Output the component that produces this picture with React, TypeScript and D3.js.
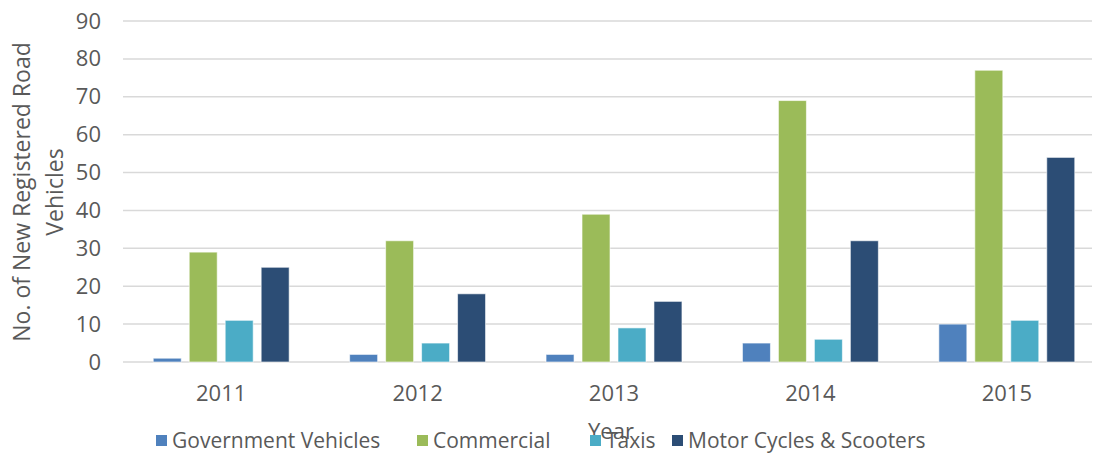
import React, { useEffect, useRef } from 'react';
import * as d3 from 'd3';

const years = ['2011', '2012', '2013', '2014', '2015'];
const seriesNames = ['Government Vehicles', 'Commercial', 'Taxis', 'Motor Cycles & Scooters'];
const government = [1, 2, 2, 5, 10];
const commercial = [29, 32, 39, 69, 77];
const taxis = [11, 5, 9, 6, 11];
const motorCycles = [25, 18, 16, 32, 54];
const colors = ['#4F81BD', '#9BBB59', '#4BACC6', '#2C4D75'];
const yTicks = [0, 10, 20, 30, 40, 50, 60, 70, 80, 90];

const font = '"Open Sans", sans-serif';
const textColor = '#595959';

function App() {
  const svgRef = useRef<SVGSVGElement>(null);

  useEffect(() => {
    const svg = d3.select(svgRef.current);
    svg.selectAll('*').remove();

    const width = 1098;
    const height = 456;
    const margin = { top: 21, right: 6, bottom: 94, left: 123 };

    const values = [government, commercial, taxis, motorCycles];

    const x0 = d3.scaleBand()
      .domain(years)
      .range([123, 1105])
      .paddingInner(0.308)
      .paddingOuter(0.154);

    const x1 = d3.scaleBand()
      .domain(seriesNames)
      .range([0, x0.bandwidth()])
      .paddingInner(0.222);

    const y = d3.scaleLinear()
      .domain([0, 90])
      .range([height - margin.bottom, margin.top]);

    // gridlines
    svg.append('g')
      .selectAll('line')
      .data(yTicks)
      .enter()
      .append('line')
      .attr('x1', margin.left)
      .attr('x2', width - margin.right)
      .attr('y1', d => y(d))
      .attr('y2', d => y(d))
      .attr('stroke', '#D9D9D9')
      .attr('stroke-width', 1.5);

    // y axis labels
    const yAxis = svg.append('g')
      .attr('transform', `translate(${margin.left - 22},0)`)
      .call(d3.axisLeft(y).tickValues(yTicks).tickSize(0).tickPadding(0));
    yAxis.select('.domain').remove();
    yAxis.selectAll('text')
      .attr('font-family', font)
      .attr('font-size', 22)
      .attr('fill', textColor);

    // bars
    seriesNames.forEach((name, si) => {
      svg.append('g')
        .selectAll('rect')
        .data(values[si])
        .enter()
        .append('rect')
        .attr('x', (d, i) => (x0(years[i]) as number) + (x1(name) as number))
        .attr('y', d => y(d))
        .attr('width', x1.bandwidth())
        .attr('height', d => y(0) - y(d))
        .attr('fill', colors[si])
        .attr('stroke', '#ffffff')
        .attr('stroke-opacity', 0.6)
        .attr('stroke-width', 1);
    });

    // x axis labels
    const xAxis = svg.append('g')
      .attr('transform', `translate(0,${height - margin.bottom + 19})`)
      .call(d3.axisBottom(x0).tickSize(0).tickPadding(0));
    xAxis.select('.domain').remove();
    xAxis.selectAll('text')
      .attr('font-family', font)
      .attr('font-size', 22)
      .attr('fill', textColor)
      .attr('dy', '0.9em');

    // y axis title
    const yTitle = svg.append('text')
      .attr('transform', 'translate(30,192) rotate(-90)')
      .attr('text-anchor', 'middle')
      .attr('font-family', font)
      .attr('font-size', 23)
      .attr('fill', textColor);
    yTitle.append('tspan').attr('x', 0).attr('dy', 0).text('No. of New Registered Road');
    yTitle.append('tspan').attr('x', 0).attr('dy', 33).text('Vehicles');

    // x axis title
    svg.append('text')
      .attr('x', 611)
      .attr('y', 439)
      .attr('text-anchor', 'middle')
      .attr('font-family', font)
      .attr('font-size', 22)
      .attr('fill', textColor)
      .text('Year');

    // legend
    const legendX = [156, 417, 590, 672];
    const legend = svg.append('g');
    seriesNames.forEach((name, i) => {
      legend.append('rect')
        .attr('x', legendX[i])
        .attr('y', 435)
        .attr('width', 11)
        .attr('height', 11)
        .attr('fill', colors[i]);
      legend.append('text')
        .attr('x', legendX[i] + 16)
        .attr('y', 448)
        .attr('font-family', font)
        .attr('font-size', 21)
        .attr('fill', textColor)
        .text(name);
    });
  }, []);

  return (
    <svg
      ref={svgRef}
      width="1098"
      height="456"
      style={{ position: 'absolute', left: 0, top: 0, background: '#fff' }}
    ></svg>
  );
}

export default App;
